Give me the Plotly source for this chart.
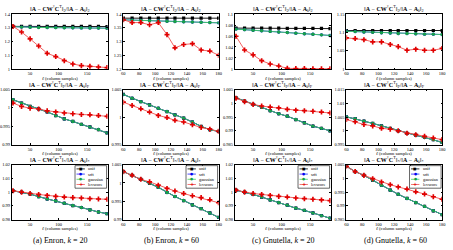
import plotly.graph_objects as go

W, H = 453, 250
FONT = "Liberation Serif"

# ---------------- data ----------------
l_k20 = [20, 35, 50, 65, 80, 95, 110, 125, 140, 155, 170, 185]
l_k60 = [60, 71, 82, 93, 104, 115, 125, 136, 147, 158, 169, 180]

series_names = ["unif", "srft", "gaussian", "levscore"]

# Row 1: spectral norm ratio
enron20_spec_unif = [1.310, 1.310, 1.310, 1.310, 1.310, 1.310, 1.310, 1.310, 1.310, 1.310, 1.310, 1.309]
enron20_spec_srft = [1.308, 1.305, 1.304, 1.303, 1.302, 1.302, 1.301, 1.300, 1.299, 1.299, 1.298, 1.297]
enron20_spec_gauss = [1.308, 1.305, 1.304, 1.302, 1.302, 1.301, 1.300, 1.300, 1.299, 1.298, 1.298, 1.297]
enron20_spec_lev = [1.310, 1.269, 1.219, 1.167, 1.114, 1.090, 1.060, 1.036, 1.024, 1.019, 1.014, 1.010]

enron60_spec_unif = [1.385, 1.385, 1.385, 1.385, 1.385, 1.385, 1.385, 1.385, 1.385, 1.385, 1.385, 1.385]
enron60_spec_srft = [1.379, 1.378, 1.377, 1.376, 1.375, 1.374, 1.373, 1.372, 1.371, 1.370, 1.369, 1.368]
enron60_spec_gauss = [1.379, 1.378, 1.377, 1.376, 1.375, 1.374, 1.373, 1.372, 1.371, 1.370, 1.369, 1.368]
enron60_spec_lev = [1.379, 1.369, 1.369, 1.361, 1.369, 1.325, 1.277, 1.289, 1.292, 1.269, 1.265, 1.250]

gnut20_spec_unif = [1.0744, 1.0744, 1.0744, 1.0744, 1.0744, 1.0744, 1.0740, 1.0738, 1.0740, 1.0740, 1.0740, 1.0735]
gnut20_spec_srft = [1.0726, 1.0716, 1.0705, 1.0695, 1.0684, 1.0674, 1.0663, 1.0652, 1.0642, 1.0631, 1.0621, 1.0610]
gnut20_spec_gauss = [1.0726, 1.0716, 1.0705, 1.0695, 1.0684, 1.0674, 1.0663, 1.0652, 1.0642, 1.0631, 1.0621, 1.0610]
gnut20_spec_lev = [1.0595, 1.0345, 1.0256, 1.0150, 1.0090, 1.0054, 1.0012, 1.0006, 1.0006, 1.0003, 1.0002, 1.0002]

gnut60_spec_unif = [1.105, 1.105, 1.105, 1.105, 1.105, 1.105, 1.105, 1.105, 1.105, 1.105, 1.105, 1.105]
gnut60_spec_srft = [1.103, 1.102, 1.101, 1.100, 1.099, 1.098, 1.097, 1.097, 1.096, 1.095, 1.095, 1.094]
gnut60_spec_gauss = [1.103, 1.102, 1.101, 1.100, 1.099, 1.098, 1.097, 1.097, 1.096, 1.095, 1.095, 1.094]
gnut60_spec_lev = [1.085, 1.083, 1.080, 1.074, 1.074, 1.067, 1.061, 1.051, 1.054, 1.051, 1.051, 1.056]

# Row 2: Frobenius norm ratio (unif / srft / gaussian coincide)
enron20_fro_gauss = [1.0022, 1.0013, 1.0004, 0.9997, 0.9989, 0.9979, 0.9970, 0.9963, 0.9955, 0.9948, 0.9941, 0.9932]
enron20_fro_lev = [1.0013, 1.0004, 0.9999, 0.9997, 0.9992, 0.9989, 0.9986, 0.9984, 0.9982, 0.9981, 0.9979, 0.9977]

enron60_fro_gauss = [1.0041, 1.0034, 1.0028, 1.0022, 1.0016, 1.0010, 1.0004, 0.9998, 0.9991, 0.9983, 0.9977, 0.9974]
enron60_fro_lev = [1.0027, 1.0021, 1.0015, 1.0009, 1.0003, 0.9999, 0.9994, 0.9991, 0.9986, 0.9981, 0.9978, 0.9974]

gnut20_fro_gauss = [1.0020, 1.0008, 0.9996, 0.9985, 0.9973, 0.9962, 0.9953, 0.9941, 0.9929, 0.9917, 0.9909, 0.9900]
gnut20_fro_lev = [1.0018, 1.0006, 0.9996, 0.9990, 0.9986, 0.9983, 0.9978, 0.9975, 0.9973, 0.9971, 0.9968, 0.9965]

gnut60_fro_gauss = [1.0051, 1.0044, 1.0035, 1.0027, 1.0018, 1.0009, 1.0000, 0.9991, 0.9984, 0.9976, 0.9968, 0.9958]
gnut60_fro_lev = [1.0041, 1.0033, 1.0023, 1.0018, 1.0009, 1.0006, 1.0000, 0.9991, 0.9986, 0.9980, 0.9974, 0.9968]

# Row 3: trace norm ratio (unif / srft / gaussian coincide)
enron20_tr_gauss = [1.0010, 1.0000, 0.9986, 0.9967, 0.9950, 0.9936, 0.9919, 0.9902, 0.9888, 0.9871, 0.9855, 0.9843]
enron20_tr_lev = [1.0010, 1.0000, 0.9990, 0.9983, 0.9976, 0.9969, 0.9964, 0.9960, 0.9957, 0.9952, 0.9950, 0.9948]

enron60_tr_gauss = [1.0031, 1.0021, 1.0010, 0.9999, 0.9988, 0.9974, 0.9963, 0.9952, 0.9940, 0.9930, 0.9918, 0.9906]
enron60_tr_lev = [1.0031, 1.0021, 1.0010, 1.0003, 0.9994, 0.9985, 0.9978, 0.9971, 0.9965, 0.9960, 0.9954, 0.9946]

gnut20_tr_gauss = [1.0014, 1.0000, 0.9983, 0.9964, 0.9943, 0.9924, 0.9905, 0.9883, 0.9867, 0.9848, 0.9829, 0.9810]
gnut20_tr_lev = [1.0014, 1.0000, 0.9990, 0.9983, 0.9976, 0.9969, 0.9964, 0.9957, 0.9952, 0.9948, 0.9943, 0.9938]

gnut60_tr_gauss = [1.0044, 1.0025, 1.0011, 0.9993, 0.9975, 0.9957, 0.9942, 0.9927, 0.9912, 0.9898, 0.9882, 0.9868]
gnut60_tr_lev = [1.0044, 1.0025, 1.0011, 0.9999, 0.9987, 0.9977, 0.9969, 0.9961, 0.9951, 0.9943, 0.9933, 0.9924]

# axis ranges / ticks
y_ranges = [
    [[1.0, 1.4], [1.2, 1.4], [1.0, 1.1], [1.0, 1.15]],
    [[0.99, 1.005], [0.995, 1.005], [0.985, 1.005], [0.995, 1.015]],
    [[0.98, 1.02], [0.99, 1.005], [0.98, 1.02], [0.985, 1.005]],
]
y_dticks = [
    [0.1, 0.05, 0.02, 0.05],
    [0.005, 0.005, 0.005, 0.005],
    [0.01, 0.005, 0.01, 0.005],
]
x_ticks_k20 = [50, 100, 150]
x_ticks_k60 = [60, 80, 100, 120, 140, 160, 180]
captions = ["(a) Enron, <i>k</i> = 20", "(b) Enron, <i>k</i> = 60",
            "(c) Gnutella, <i>k</i> = 20", "(d) Gnutella, <i>k</i> = 60"]

panels = [
    [
        (l_k20, [enron20_spec_unif, enron20_spec_srft, enron20_spec_gauss, enron20_spec_lev]),
        (l_k60, [enron60_spec_unif, enron60_spec_srft, enron60_spec_gauss, enron60_spec_lev]),
        (l_k20, [gnut20_spec_unif, gnut20_spec_srft, gnut20_spec_gauss, gnut20_spec_lev]),
        (l_k60, [gnut60_spec_unif, gnut60_spec_srft, gnut60_spec_gauss, gnut60_spec_lev]),
    ],
    [
        (l_k20, [enron20_fro_gauss, enron20_fro_gauss, enron20_fro_gauss, enron20_fro_lev]),
        (l_k60, [enron60_fro_gauss, enron60_fro_gauss, enron60_fro_gauss, enron60_fro_lev]),
        (l_k20, [gnut20_fro_gauss, gnut20_fro_gauss, gnut20_fro_gauss, gnut20_fro_lev]),
        (l_k60, [gnut60_fro_gauss, gnut60_fro_gauss, gnut60_fro_gauss, gnut60_fro_lev]),
    ],
    [
        (l_k20, [enron20_tr_gauss, enron20_tr_gauss, enron20_tr_gauss, enron20_tr_lev]),
        (l_k60, [enron60_tr_gauss, enron60_tr_gauss, enron60_tr_gauss, enron60_tr_lev]),
        (l_k20, [gnut20_tr_gauss, gnut20_tr_gauss, gnut20_tr_gauss, gnut20_tr_lev]),
        (l_k60, [gnut60_tr_gauss, gnut60_tr_gauss, gnut60_tr_gauss, gnut60_tr_lev]),
    ],
]

norm_subs = ["2", "F", "*"]

# ---------------- styles ----------------
line_colors = ["#000000", "#2020ff", "#40d060", "#f05050"]
marker_colors = ["#000000", "#0000ee", "#18a048", "#e00000"]
marker_symbols = ["square", "circle", "circle", "cross"]
marker_sizes = [3.2, 3.4, 3.4, 4.2]

col_px = [(10, 107), (123, 219.5), (236, 333), (349, 446)]
row_px = [(12.3, 68.3), (89.3, 145.5), (166.0, 222.0)]


def px_x(v):
    return v / W


def px_y(v):
    return 1 - v / H


fig = go.Figure()
annotations = []
shapes = []

for r in range(3):
    for c in range(4):
        n = r * 4 + c + 1
        xs, ys_list = panels[r][c]
        xa = "x" if n == 1 else f"x{n}"
        ya = "y" if n == 1 else f"y{n}"
        for s in range(4):
            fig.add_trace(go.Scatter(
                x=xs, y=ys_list[s], mode="lines+markers", name=series_names[s],
                xaxis=xa, yaxis=ya, showlegend=False,
                line=dict(color=line_colors[s], width=0.9),
                marker=dict(symbol=marker_symbols[s], size=marker_sizes[s],
                            color=marker_colors[s], line=dict(width=0)),
            ))
        x0, x1 = col_px[c]
        y0, y1 = row_px[r]
        k20 = (c % 2 == 0)
        axis_common = dict(
            showline=True, linecolor="#000000", linewidth=0.8, mirror="ticks",
            ticks="inside", ticklen=1.5, tickwidth=0.6, tickcolor="#000000",
            showgrid=False, zeroline=False,
            tickfont=dict(family=FONT, size=4.5, color="#000000"),
        )
        fig.layout[f"xaxis{'' if n == 1 else n}"] = dict(
            domain=[px_x(x0), px_x(x1)], anchor=ya,
            range=[18, 186] if k20 else [60, 180],
            tickvals=x_ticks_k20 if k20 else x_ticks_k60,
            ticklabelstandoff=0,
            **axis_common,
        )
        fig.layout[f"yaxis{'' if n == 1 else n}"] = dict(
            domain=[px_y(y1), px_y(y0)], anchor=xa,
            range=y_ranges[r][c], dtick=y_dticks[r][c], tick0=0,
            ticklabelstandoff=0,
            **axis_common,
        )
        cx = (x0 + x1) / 2
        sub = norm_subs[r]
        sub_html = "<sub>*</sub>" if sub == "*" else f"<sub>{sub}</sub>"
        title = (f"‖<b>A</b> − <b>CW</b><sup>†</sup><b>C</b><sup>T</sup>‖{sub_html}"
                 f"/‖<b>A</b> − <b>A</b><sub><i>k</i></sub>‖{sub_html}")
        annotations.append(dict(
            x=px_x(cx), y=px_y(y0 - 5.5), xref="paper", yref="paper",
            text=title, showarrow=False, xanchor="center", yanchor="middle",
            font=dict(family=FONT, size=6.0, color="#000000"),
        ))
        annotations.append(dict(
            x=px_x(cx), y=px_y(y1 + 9.3), xref="paper", yref="paper",
            text="<i>ℓ</i> (column samples)", showarrow=False,
            xanchor="center", yanchor="middle",
            font=dict(family=FONT, size=4.6, color="#000000"),
        ))
        if r == 2:
            # legend box
            bx0, bx1 = x1 - 33, x1 - 1
            by0, by1 = y0 + 1, y0 + 24
            shapes.append(dict(type="rect", xref="paper", yref="paper",
                               x0=px_x(bx0), x1=px_x(bx1), y0=px_y(by1), y1=px_y(by0),
                               line=dict(color="#000000", width=0.6),
                               fillcolor="#ffffff", layer="above"))
            for s in range(4):
                ey = by0 + 3.3 + s * 5.3
                shapes.append(dict(type="line", xref="paper", yref="paper",
                                   x0=px_x(bx0 + 1.5), x1=px_x(bx0 + 10),
                                   y0=px_y(ey), y1=px_y(ey),
                                   line=dict(color=line_colors[s], width=0.8),
                                   layer="above"))
                glyph = {"square": "■", "circle": "●", "cross": "+"}[marker_symbols[s]]
                annotations.append(dict(
                    x=px_x(bx0 + 5.75), y=px_y(ey), xref="paper", yref="paper",
                    text=f"<b>{glyph}</b>", showarrow=False, xanchor="center", yanchor="middle",
                    font=dict(family="DejaVu Sans", size=3.6 if s < 3 else 5,
                              color=marker_colors[s]),
                ))
                annotations.append(dict(
                    x=px_x(bx0 + 11.5), y=px_y(ey), xref="paper", yref="paper",
                    text=series_names[s], showarrow=False, xanchor="left", yanchor="middle",
                    font=dict(family=FONT, size=4.3, color="#000000"),
                ))

for c in range(4):
    x0, x1 = col_px[c]
    annotations.append(dict(
        x=px_x((x0 + x1) / 2 + 1), y=px_y(243.5), xref="paper", yref="paper",
        text=captions[c], showarrow=False, xanchor="center", yanchor="middle",
        font=dict(family=FONT, size=8, color="#000000"),
    ))

fig.update_layout(
    width=W, height=H, margin=dict(l=0, r=0, t=0, b=0),
    paper_bgcolor="#ffffff", plot_bgcolor="#ffffff",
    annotations=annotations, shapes=shapes, showlegend=False,
)

fig.write_html("out.html")
